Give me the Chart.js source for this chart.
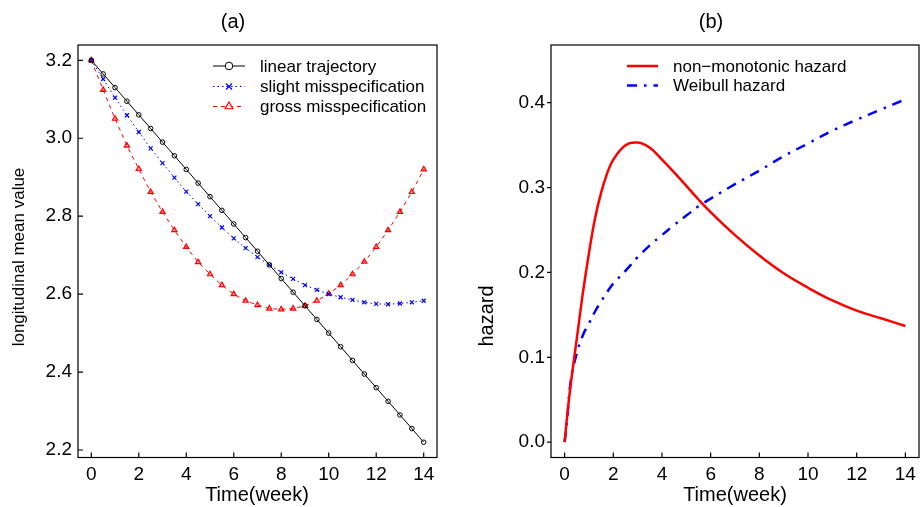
<!DOCTYPE html>
<html>
<head>
<meta charset="utf-8">
<script src="https://cdn.jsdelivr.net/npm/chart.js@4.4.1/dist/chart.umd.min.js"></script>
<style>
  html, body { margin: 0; padding: 0; background: #fff; }
  #wrap { position: relative; width: 923px; height: 507px; }
  canvas { position: absolute; top: 0; }
  #chartA { left: 0; }
  #chartB { left: 461px; }
</style>
</head>
<body>
<div id="wrap">
  <canvas id="chartA" width="461" height="507"></canvas>
  <canvas id="chartB" width="462" height="507"></canvas>
</div>
<script>
// ---- panel (a) data: longitudinal mean value by week ----
const weeksA = [0, 0.5, 1, 1.5, 2, 2.5, 3, 3.5, 4, 4.5, 5, 5.5, 6, 6.5, 7, 7.5,
  8, 8.5, 9, 9.5, 10, 10.5, 11, 11.5, 12, 12.5, 13, 13.5, 14];
const linearTrajectory = [3.200, 3.165, 3.130, 3.095, 3.060, 3.025, 2.990, 2.955,
  2.920, 2.885, 2.850, 2.815, 2.780, 2.745, 2.710, 2.675, 2.640, 2.605, 2.570,
  2.535, 2.500, 2.465, 2.430, 2.395, 2.360, 2.325, 2.290, 2.255, 2.220];
const slightMisspec = [3.200, 3.152, 3.104, 3.059, 3.016, 2.974, 2.936, 2.899,
  2.863, 2.831, 2.800, 2.771, 2.743, 2.718, 2.695, 2.675, 2.656, 2.639, 2.623,
  2.611, 2.600, 2.592, 2.585, 2.579, 2.575, 2.574, 2.576, 2.579, 2.583];
const grossMisspec = [3.200, 3.124, 3.050, 2.981, 2.921, 2.862, 2.811, 2.764,
  2.721, 2.682, 2.651, 2.623, 2.600, 2.583, 2.572, 2.563, 2.561, 2.563, 2.570,
  2.583, 2.601, 2.623, 2.651, 2.683, 2.721, 2.764, 2.811, 2.862, 2.920];
const yTicksA = [2.2, 2.4, 2.6, 2.8, 3.0, 3.2];

// ---- panel (b) data: hazard by week ----
const weeksB = [0, 0.1, 0.25, 0.5, 0.75, 1, 1.25, 1.5, 1.75, 2, 2.5, 3, 3.5, 4,
  4.5, 5, 5.5, 6, 7, 8, 9, 10, 11, 12, 13, 14];
const nonMonotonicHazard = [0, 0.030, 0.068, 0.122, 0.176, 0.223, 0.264, 0.294,
  0.317, 0.333, 0.350, 0.353, 0.347, 0.333, 0.318, 0.302, 0.286, 0.271, 0.244,
  0.220, 0.199, 0.182, 0.167, 0.155, 0.146, 0.137];
const weibullHazard = [0, 0.025, 0.072, 0.105, 0.126, 0.140, 0.154, 0.166,
  0.177, 0.187, 0.202, 0.218, 0.232, 0.244, 0.256, 0.267, 0.278, 0.287, 0.304,
  0.320, 0.337, 0.352, 0.367, 0.380, 0.392, 0.404];
const yTicksB = [0.0, 0.1, 0.2, 0.3, 0.4];

const xTicks = [0, 2, 4, 6, 8, 10, 12, 14];
const FONT = '"Liberation Sans", Arial, Helvetica, sans-serif';

function toPoints(xs, ys) {
  return xs.map((x, i) => ({ x: x, y: ys[i] }));
}

// box, tick marks, titles and legend, R-style
const framePlugin = {
  id: 'frame',
  afterDatasetsDraw(chart, args, opts) {
    const ctx = chart.ctx;
    const area = chart.chartArea;
    const xs = chart.scales.x, ys = chart.scales.y;
    ctx.save();
    ctx.strokeStyle = '#000';
    ctx.lineWidth = 1.2;
    ctx.setLineDash([]);
    ctx.strokeRect(area.left, area.top, area.right - area.left, area.bottom - area.top);

    ctx.beginPath();
    opts.xTicks.forEach(v => {
      const px = xs.getPixelForValue(v);
      ctx.moveTo(px, area.bottom);
      ctx.lineTo(px, area.bottom - opts.xTickLen);
    });
    opts.yTicks.forEach(v => {
      const py = ys.getPixelForValue(v);
      ctx.moveTo(area.left, py);
      ctx.lineTo(area.left + opts.yTickLen, py);
    });
    ctx.stroke();

    // texts
    ctx.fillStyle = '#000';
    ctx.textAlign = 'center';
    ctx.textBaseline = 'middle';
    ctx.font = opts.title.size + 'px ' + FONT;
    ctx.fillText(opts.title.text, opts.title.x, opts.title.y);
    ctx.font = opts.xTitle.size + 'px ' + FONT;
    ctx.fillText(opts.xTitle.text, opts.xTitle.x, opts.xTitle.y);
    ctx.save();
    ctx.translate(opts.yTitle.x, opts.yTitle.y);
    ctx.rotate(-Math.PI / 2);
    ctx.font = opts.yTitle.size + 'px ' + FONT;
    ctx.fillText(opts.yTitle.text, 0, 0);
    ctx.restore();

    // legend
    const lg = opts.legend;
    chart.data.datasets.forEach((ds, i) => {
      const y = lg.rows[i];
      ctx.save();
      ctx.strokeStyle = ds.borderColor;
      ctx.lineWidth = ds.borderWidth;
      ctx.setLineDash(ds.borderDash || []);
      ctx.beginPath();
      ctx.moveTo(lg.x1, y);
      ctx.lineTo(lg.x2, y);
      ctx.stroke();
      ctx.setLineDash([]);
      if (ds.pointRadius > 0) {
        ctx.strokeStyle = ds.pointBorderColor;
        ctx.fillStyle = '#fff';
        ctx.lineWidth = ds.pointBorderWidth;
        Chart.helpers.drawPoint(ctx, {
          pointStyle: ds.pointStyle, radius: ds.pointRadius + 1.5,
          rotation: 0, borderWidth: ds.pointBorderWidth
        }, (lg.x1 + lg.x2) / 2, y);
      }
      ctx.restore();
      ctx.fillStyle = '#000';
      ctx.textAlign = 'left';
      ctx.textBaseline = 'middle';
      ctx.font = lg.size + 'px ' + FONT;
      ctx.fillText(ds.label, lg.textX, y + 1);
    });
    ctx.restore();
  }
};

function makeScales(xRange, yRange, yTickList, yWidth, xHeight) {
  return {
    x: {
      type: 'linear', min: xRange[0], max: xRange[1],
      afterBuildTicks: s => { s.ticks = xTicks.map(v => ({ value: v })); },
      afterFit: s => { s.height = xHeight; },
      grid: { display: false, tickLength: 0 }, border: { display: false },
      ticks: { color: '#000', padding: 6, font: { family: FONT, size: 19 },
        callback: v => String(v), maxRotation: 0, autoSkip: false }
    },
    y: {
      type: 'linear', min: yRange[0], max: yRange[1],
      afterBuildTicks: s => { s.ticks = yTickList.map(v => ({ value: v })); },
      afterFit: s => { s.width = yWidth; },
      grid: { display: false, tickLength: 0 }, border: { display: false },
      ticks: { color: '#000', padding: 6, font: { family: FONT, size: 19 },
        callback: v => Number(v).toFixed(1), autoSkip: false }
    }
  };
}

new Chart(document.getElementById('chartA').getContext('2d'), {
  type: 'line',
  data: {
    datasets: [{
      label: 'linear trajectory',
      data: toPoints(weeksA, linearTrajectory),
      borderColor: '#000', borderWidth: 1, borderDash: [],
      pointStyle: 'circle', pointRadius: 2.3, pointBorderWidth: 1,
      pointBorderColor: '#000', pointBackgroundColor: 'rgba(0,0,0,0)'
    }, {
      label: 'slight misspecification',
      data: toPoints(weeksA, slightMisspec),
      borderColor: '#0000ff', borderWidth: 1, borderDash: [1.5, 3],
      pointStyle: 'crossRot', pointRadius: 2.8, pointBorderWidth: 1.2,
      pointBorderColor: '#0000ff', pointBackgroundColor: 'rgba(0,0,0,0)'
    }, {
      label: 'gross misspecification',
      data: toPoints(weeksA, grossMisspec),
      borderColor: '#ff0000', borderWidth: 1, borderDash: [4, 4],
      pointStyle: 'triangle', pointRadius: 3, pointBorderWidth: 1.2,
      pointBorderColor: '#ff0000', pointBackgroundColor: 'rgba(255,0,0,0.35)'
    }]
  },
  options: {
    responsive: false, animation: false,
    layout: { padding: { top: 45, right: 24, left: 0, bottom: 0 } },
    plugins: {
      legend: { display: false }, tooltip: { enabled: false },
      frame: {
        xTicks: xTicks, yTicks: yTicksA, xTickLen: 5, yTickLen: 5,
        title: { text: '(a)', x: 233, y: 22, size: 20 },
        xTitle: { text: 'Time(week)', x: 257, y: 495, size: 20 },
        yTitle: { text: 'longitudinal mean value', x: 19, y: 257, size: 17 },
        legend: { x1: 213, x2: 245, textX: 260, rows: [66, 86.5, 106.5], size: 17 }
      }
    },
    scales: makeScales([-0.56, 14.56], [2.1808, 3.2392], yTicksA, 78, 49.5)
  },
  plugins: [framePlugin]
});

new Chart(document.getElementById('chartB').getContext('2d'), {
  type: 'line',
  data: {
    datasets: [{
      label: 'non\u2212monotonic hazard',
      data: toPoints(weeksB, nonMonotonicHazard),
      borderColor: '#ff0000', borderWidth: 2.5, borderDash: [],
      pointRadius: 0, tension: 0.4
    }, {
      label: 'Weibull hazard',
      data: toPoints(weeksB, weibullHazard),
      borderColor: '#0000ff', borderWidth: 2.5, borderDash: [10, 7, 2.5, 7],
      pointRadius: 0, tension: 0.4
    }]
  },
  options: {
    responsive: false, animation: false,
    layout: { padding: { top: 45, right: 4, left: 0, bottom: 0 } },
    plugins: {
      legend: { display: false }, tooltip: { enabled: false },
      frame: {
        xTicks: xTicks, yTicks: yTicksB, xTickLen: 5, yTickLen: -4,
        title: { text: '(b)', x: 250, y: 22, size: 20 },
        xTitle: { text: 'Time(week)', x: 274, y: 495, size: 20 },
        yTitle: { text: 'hazard', x: 26, y: 316, size: 20 },
        legend: { x1: 166, x2: 197, textX: 212, rows: [66, 85.5], size: 17 }
      }
    },
    scales: makeScales([-0.56, 14.56], [-0.018, 0.468], yTicksB, 90, 49.5)
  },
  plugins: [framePlugin]
});
</script>
</body>
</html>
